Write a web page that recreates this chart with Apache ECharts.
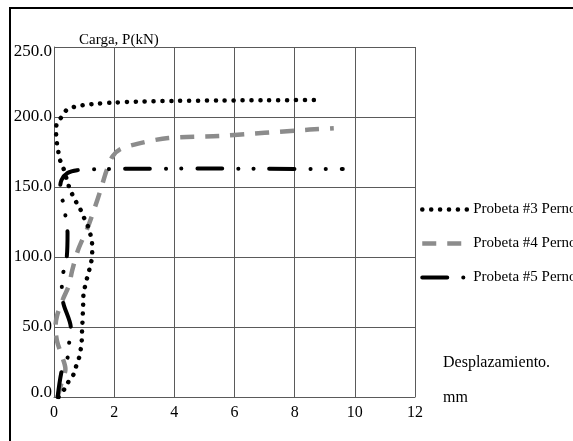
<!DOCTYPE html>
<html>
<head>
<meta charset="utf-8">
<script src="https://cdn.jsdelivr.net/npm/echarts@6/dist/echarts.min.js"></script>
<style>html,body{margin:0;padding:0;background:#fff;}#c{width:573px;height:441px;}</style>
</head>
<body>
<div id="c"></div>
<script>
// ---- data (x = displacement mm, y = load kN) ----
const seriesNames = ['Probeta #3 Perno', 'Probeta #4 Perno', 'Probeta #5 Perno'];
const xTicks = [0, 2, 4, 6, 8, 10, 12];
const yTicks = [0, 50, 100, 150, 200, 250];

const probeta3 = [
  [0.15, 0], [0.37, 6.4], [0.48, 10.9], [0.64, 15.7], [0.73, 21.6], [0.84, 28.6],
  [0.89, 34.3], [0.92, 39.5], [0.93, 45.7], [0.94, 50.2], [0.96, 60.9], [0.97, 66.4],
  [0.98, 72.9], [1.03, 78.8], [1.11, 85.9], [1.2, 93.1], [1.26, 99.3], [1.27, 105],
  [1.26, 110.9], [1.2, 117], [1.11, 122.9], [0.98, 128.8], [0.87, 134.3], [0.73, 139.5],
  [0.59, 145.5], [0.48, 151.4], [0.31, 163.6], [0.2, 169.3], [0.14, 175.7], [0.09, 182.4],
  [0.07, 188.8], [0.09, 195.5], [0.26, 200.2], [0.42, 205], [0.7, 207.4], [1.01, 208.6],
  [1.31, 209.3], [2.0, 210.3], [2.76, 211], [4, 211.5], [5.5, 211.8], [7, 212], [8.7, 212.1]
];
const probeta4 = [
  [0.12, 0], [0.25, 10], [0.38, 20], [0.25, 30], [0.1, 40], [0.05, 50], [0.1, 58],
  [0.3, 70], [0.5, 80], [0.6, 90], [0.8, 105], [1.1, 120], [1.35, 135], [1.55, 148],
  [1.75, 162], [1.95, 172], [2.2, 177], [2.8, 181], [3.8, 185], [5.5, 186.5],
  [6.5, 188], [7.5, 189.5], [8.5, 191], [9.3, 192]
];
const probeta5 = [
  [0.12, 0], [0.27, 20], [0.45, 28], [0.5, 38], [0.56, 49], [0.31, 67], [0.26, 78],
  [0.31, 89], [0.42, 99], [0.45, 117], [0.4, 126], [0.33, 137], [0.2, 148], [0.25, 155],
  [0.45, 160], [0.77, 162], [1.5, 162.8], [3, 163], [5, 163.2], [7, 163], [9.6, 162.8]
];

const FONT = 'Liberation Serif';
const chart = echarts.init(document.getElementById('c'), null, {renderer: 'canvas'});

const dot3 = {color: '#000', width: 4.5, type: [0.1, 8.8], cap: 'round'};
const dash4 = {color: '#8c8c8c', width: 4.5, type: [14, 11], cap: 'butt'};
const dd5 = {color: '#000', width: 4, type: [25, 16, 0.1, 15, 0.1, 16], cap: 'round'};
const noSym = {opacity: 0};

chart.setOption({
  animation: false,
  backgroundColor: '#fff',
  color: ['#000', '#8c8c8c', '#000'],
  title: {
    text: 'Carga, P(kN)', left: 74, top: 28,
    textStyle: {fontFamily: FONT, fontSize: 15, fontWeight: 'normal', color: '#000'}
  },
  grid: {left: 54, right: 158, top: 47, bottom: 44, containLabel: false},
  legend: {
    orient: 'vertical', left: 415, top: 197, itemGap: 19,
    itemWidth: 46, itemHeight: 16,
    textStyle: {fontFamily: FONT, fontSize: 15, color: '#000'},
    itemStyle: noSym,
    data: [
      {name: seriesNames[0], lineStyle: dot3, itemStyle: noSym},
      {name: seriesNames[1], lineStyle: dash4, itemStyle: noSym},
      {name: seriesNames[2], lineStyle: dd5, itemStyle: noSym}
    ]
  },
  xAxis: {
    type: 'value', min: xTicks[0], max: xTicks[xTicks.length - 1], interval: xTicks[1] - xTicks[0],
    axisLine: {show: true, onZero: false, lineStyle: {color: '#5a5a5a', width: 1}},
    axisTick: {show: false},
    splitLine: {show: true, lineStyle: {color: '#5a5a5a', width: 1}},
    axisLabel: {fontFamily: FONT, fontSize: 16, color: '#000', margin: 8}
  },
  yAxis: {
    type: 'value', min: yTicks[0], max: yTicks[yTicks.length - 1], interval: yTicks[1] - yTicks[0],
    axisLine: {show: true, lineStyle: {color: '#5a5a5a', width: 1}},
    axisTick: {show: false},
    splitLine: {show: true, lineStyle: {color: '#5a5a5a', width: 1}},
    axisLabel: {
      fontFamily: FONT, fontSize: 17, color: '#000', margin: 2,
      formatter: function (v) {
        const s = v.toFixed(1);
        if (v === yTicks[yTicks.length - 1]) return '{t|' + s + '}';
        if (v === yTicks[0]) return '{z|' + s + '}';
        return s;
      },
      rich: {
        t: {fontFamily: FONT, fontSize: 17, color: '#000', padding: [10, 0, 0, 0]},
        z: {fontFamily: FONT, fontSize: 17, color: '#000', padding: [0, 0, 8, 0]}
      }
    }
  },
  graphic: [
    {type: 'line', shape: {x1: 9, y1: 8, x2: 573, y2: 8}, style: {stroke: '#000', lineWidth: 2}},
    {type: 'line', shape: {x1: 10, y1: 7, x2: 10, y2: 441}, style: {stroke: '#000', lineWidth: 2}},
    {type: 'text', left: 443, top: 355, style: {text: 'Desplazamiento.', font: '16px "Liberation Serif"', fill: '#000'}},
    {type: 'text', left: 443, top: 390, style: {text: 'mm', font: '16px "Liberation Serif"', fill: '#000'}}
  ],
  series: [
    {name: seriesNames[0], type: 'line', data: probeta3, symbol: 'none', smooth: 0.3, lineStyle: dot3, itemStyle: {color: '#000'}, z: 3},
    {name: seriesNames[1], type: 'line', data: probeta4, symbol: 'none', smooth: 0.3, lineStyle: dash4, itemStyle: {color: '#8c8c8c'}, z: 2},
    {name: seriesNames[2], type: 'line', data: probeta5, symbol: 'none', smooth: 0.3, lineStyle: dd5, itemStyle: {color: '#000'}, z: 4}
  ]
});
</script>
</body>
</html>
